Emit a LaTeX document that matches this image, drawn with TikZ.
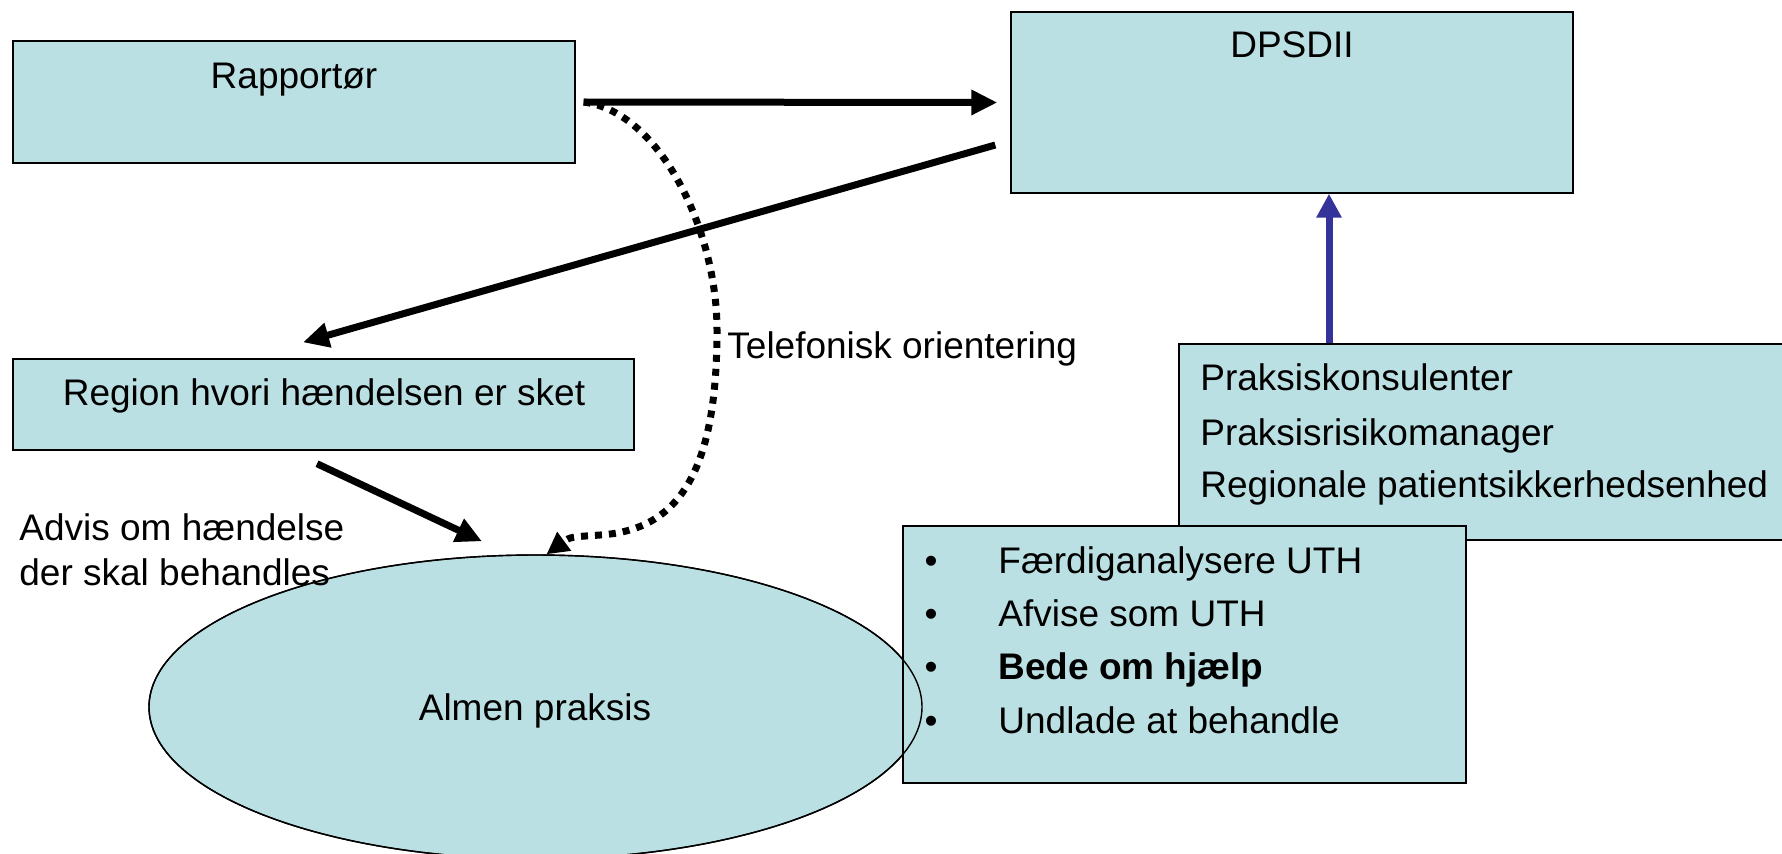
\documentclass[tikz,border=0pt]{standalone}
\usepackage{fontspec}
\setmainfont{Liberation Sans}
\usetikzlibrary{shapes.geometric,arrows.meta}
\definecolor{boxfill}{RGB}{187,224,227}
\definecolor{arrowblue}{RGB}{51,51,153}
\begin{document}
\begin{tikzpicture}[x=0.5pt,y=-0.5pt,
  box/.style={draw=black,line width=0.7pt,fill=boxfill,inner sep=0pt,rectangle},
  txt/.style={inner sep=0pt,font=\fontsize{18.5pt}{22pt}\selectfont},
  blackarrow/.style={line width=3.5pt,-{Triangle[length=13pt,width=12pt]}},
  bluearrow/.style={draw=arrowblue,line width=3.5pt,-{Triangle[length=12pt,width=12pt]}},
  dotarrow/.style={line width=3.5pt,dash pattern=on 3.5pt off 3.5pt,-{Triangle[length=11pt,width=11pt]}}]
\useasboundingbox (0,0) rectangle (1782,853);
% boxes
\node[box,minimum width=281pt,minimum height=61pt] (rap) at (294,102) {};
\node[box,minimum width=281pt,minimum height=90.5pt] (dps) at (1292,102.5) {};
\node[box,minimum width=310.5pt,minimum height=45.5pt] (reg) at (323.5,404.5) {};
\node[box,minimum width=310.5pt,minimum height=98pt] (prak) at (1489.5,442) {};
\node[ellipse,draw=black,line width=0.7pt,fill=boxfill,inner sep=0pt,minimum width=386.5pt,minimum height=152pt] (alm) at (535.5,707) {};
\node[box,minimum width=281.5pt,minimum height=128.5pt] (bul) at (1184.5,654.5) {};
\node[ellipse,draw=black,line width=0.7pt,inner sep=0pt,minimum width=386.5pt,minimum height=152pt] at (alm.center) {};
% texts
\node[txt,anchor=base] (raptxt) at (294,88) {Rapportør};
\node[txt,anchor=base] (dpstxt) at (1292,57) {DPSDII};
\node[txt,anchor=base] (regtxt) at (324,405) {Region hvori hændelsen er sket};
\node[txt,anchor=base] (almtxt) at (535,720) {Almen praksis};
\node[txt,anchor=base west] (advis1) at (19,540) {Advis om hændelse};
\node[txt,anchor=base west] (advis2) at (19,585) {der skal behandles};
\node[txt,anchor=base west] (tel) at (727,358) {Telefonisk orientering};
\node[txt,anchor=base west] (p1) at (1200,390) {Praksiskonsulenter};
\node[txt,anchor=base west] (p2) at (1200,445) {Praksisrisikomanager};
\node[txt,anchor=base west] (p3) at (1200,497) {Regionale patientsikkerhedsenhed};
\node[txt,anchor=base] (b1) at (931,573) {\textbullet};
\node[txt,anchor=base] (b2) at (931,626) {\textbullet};
\node[txt,anchor=base] (b3) at (931,679) {\textbullet};
\node[txt,anchor=base] (b4) at (931,733) {\textbullet};
\node[txt,anchor=base west] (t1) at (998,573) {Færdiganalysere UTH};
\node[txt,anchor=base west] (t2) at (998,626) {Afvise som UTH};
\node[txt,anchor=base west] (t3) at (998,679) {\bfseries Bede om hjælp};
\node[txt,anchor=base west] (t4) at (998,733) {Undlade at behandle};
% connectors
\draw[blackarrow] ([xshift=4pt]rap.east) -- ([xshift=-6.5pt]dps.west);
\draw[dotarrow] ([xshift=4pt]rap.east) .. controls (660,112) and (717,230) .. (717,330)
  .. controls (717,470) and (680,530) .. (600,535) .. controls (570,537) .. ([xshift=5.5pt]alm.north);
\draw[blackarrow] ([xshift=-7.5pt,yshift=-21.25pt]dps.west) -- ([xshift=-10.25pt,yshift=8pt]reg.north);
\draw[blackarrow] ([xshift=-3.25pt,yshift=-6.5pt]reg.south) -- ([xshift=-26.75pt,yshift=6.5pt]alm.north);
\draw[bluearrow] ([xshift=-80.25pt]prak.north) -- ([xshift=18.5pt]dps.south);
\end{tikzpicture}
\end{document}
